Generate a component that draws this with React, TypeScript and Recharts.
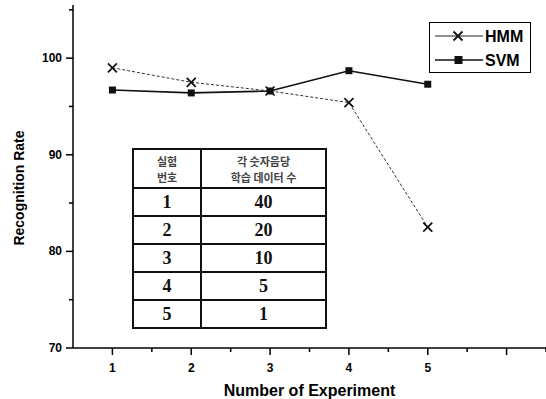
import React from 'react';
import { LineChart, Line, XAxis, YAxis } from 'recharts';

const experiments = [1, 2, 3, 4, 5];
const hmmValues = [99.0, 97.5, 96.6, 95.4, 82.5];
const svmValues = [96.7, 96.4, 96.6, 98.7, 97.3];
const xTicks = [1, 1.5, 2, 2.5, 3, 3.5, 4, 4.5, 5, 5.5, 6, 6.5];
const yTicks = [70, 75, 80, 85, 90, 95, 100, 105];
const seriesNames = ['HMM', 'SVM'];
const tableHeader = ['실험\n번호', '각 숫자음당\n학습 데이터 수'];
const tableNums = [1, 2, 3, 4, 5];
const tableCounts = [40, 20, 10, 5, 1];

const data = experiments.map((e, i) => ({ x: e, HMM: hmmValues[i], SVM: svmValues[i] }));

const FONT = 'Liberation Sans, Arial, sans-serif';

const XTick = (props: any) => {
  const { x, y, payload } = props;
  const v = payload.value;
  const major = Number.isInteger(v);
  return (
    <g>
      <line x1={x} y1={y - 8} x2={x} y2={y - 8 + (major ? 7 : 4)} stroke="#000" strokeWidth={1.5} />
      {major && v <= 5 && (
        <text x={x} y={y + 16} textAnchor="middle" fontSize={12} fontWeight="bold" fill="#000" fontFamily={FONT}>
          {v}
        </text>
      )}
    </g>
  );
};

const YTick = (props: any) => {
  const { x, y, payload } = props;
  const v = payload.value;
  const major = v % 10 === 0;
  return (
    <g>
      <line x1={x + 8} y1={y} x2={x + 8 - (major ? 7 : 4)} y2={y} stroke="#000" strokeWidth={1.5} />
      {major && (
        <text x={x - 3} y={y + 4} textAnchor="end" fontSize={12} fontWeight="bold" fill="#000" fontFamily={FONT}>
          {v}
        </text>
      )}
    </g>
  );
};

const XMark = (props: any) => {
  const { cx, cy } = props;
  if (cx == null || cy == null) return null;
  const s = 4.5;
  return (
    <g>
      <line x1={cx - s} y1={cy - s} x2={cx + s} y2={cy + s} stroke="#111" strokeWidth={1.7} />
      <line x1={cx - s} y1={cy + s} x2={cx + s} y2={cy - s} stroke="#111" strokeWidth={1.7} />
    </g>
  );
};

const SquareMark = (props: any) => {
  const { cx, cy } = props;
  if (cx == null || cy == null) return null;
  return <rect x={cx - 3.5} y={cy - 3.5} width={7} height={7} fill="#111" />;
};

const YLabel = () => (
  <text
    x={19}
    y={188}
    transform="rotate(-90, 19, 188)"
    textAnchor="middle"
    dominantBaseline="central"
    fontSize={14}
    fontWeight="bold"
    fill="#000"
    fontFamily={FONT}
  >
    Recognition Rate
  </text>
);

const LegendBox = () => (
  <div
    style={{
      position: 'absolute',
      left: 429,
      top: 22,
      border: '1.5px solid #000',
      width: 102,
      height: 51,
      boxSizing: 'border-box',
      background: '#fff',
    }}
  >
    <svg width={100} height={49} style={{ display: 'block' }}>
      <line x1={5} y1={13} x2={53} y2={13} stroke="#222" strokeWidth={1} />
      <line x1={23.5} y1={8.5} x2={32.5} y2={17.5} stroke="#111" strokeWidth={1.8} />
      <line x1={23.5} y1={17.5} x2={32.5} y2={8.5} stroke="#111" strokeWidth={1.8} />
      <text x={55} y={19} fontSize={16} fontWeight="bold" fill="#000" fontFamily={FONT}>{seriesNames[0]}</text>
      <line x1={5} y1={37} x2={53} y2={37} stroke="#111" strokeWidth={1.5} />
      <rect x={24.5} y={33} width={8} height={8} fill="#111" />
      <text x={55} y={43} fontSize={16} fontWeight="bold" fill="#000" fontFamily={FONT}>{seriesNames[1]}</text>
    </svg>
  </div>
);

const cellBorder = '2px solid #111';
const numCell: React.CSSProperties = {
  border: cellBorder,
  textAlign: 'center',
  fontFamily: 'Liberation Serif, serif',
  fontWeight: 'bold',
  fontSize: 18,
  padding: 0,
  color: '#111',
};

export default function App() {
  return (
    <div style={{ position: 'absolute', left: 0, top: 0, width: 546, height: 399, background: '#fff' }}>
      <LineChart width={546} height={399} data={data} margin={{ top: 5, right: 0, bottom: 0, left: 0 }}>
        <XAxis
          dataKey="x"
          type="number"
          domain={[0.5, 6.5]}
          ticks={xTicks}
          tick={<XTick />}
          tickLine={false}
          axisLine={{ stroke: '#000', strokeWidth: 1.5 }}
          height={51}
          interval={0}
          allowDataOverflow
          label={{ value: 'Number of Experiment', position: 'insideBottom', offset: 3, fontSize: 16, fontWeight: 'bold', fill: '#000', fontFamily: FONT }}
        />
        <YAxis
          type="number"
          domain={[70, 105.5]}
          ticks={yTicks}
          tick={<YTick />}
          tickLine={false}
          axisLine={{ stroke: '#000', strokeWidth: 1.5 }}
          width={73}
          interval={0}
          allowDataOverflow
          label={<YLabel />}
        />
        <Line dataKey="HMM" stroke="#333" strokeWidth={1} strokeDasharray="3 2" dot={<XMark />} isAnimationActive={false} />
        <Line dataKey="SVM" stroke="#111" strokeWidth={1.6} dot={<SquareMark />} isAnimationActive={false} />
      </LineChart>
      <LegendBox />
      <table
        style={{
          position: 'absolute',
          left: 132,
          top: 148,
          width: 195,
          height: 179,
          borderCollapse: 'collapse',
          background: '#fff',
          tableLayout: 'fixed',
        }}
      >
        <tbody>
          <tr style={{ height: 39 }}>
            {tableHeader.map((h, i) => (
              <td
                key={i}
                style={{
                  border: cellBorder,
                  width: i === 0 ? 66 : undefined,
                  textAlign: 'center',
                  fontFamily: 'Noto Sans CJK KR',
                  fontSize: 11,
                  fontWeight: 'bold',
                  lineHeight: '16px',
                  color: '#444',
                  whiteSpace: 'pre-line',
                  padding: 0,
                }}
              >
                {h}
              </td>
            ))}
          </tr>
          {tableNums.map((n, i) => (
            <tr key={n} style={{ height: 28 }}>
              <td style={numCell}>{n}</td>
              <td style={numCell}>{tableCounts[i]}</td>
            </tr>
          ))}
        </tbody>
      </table>
    </div>
  );
}
